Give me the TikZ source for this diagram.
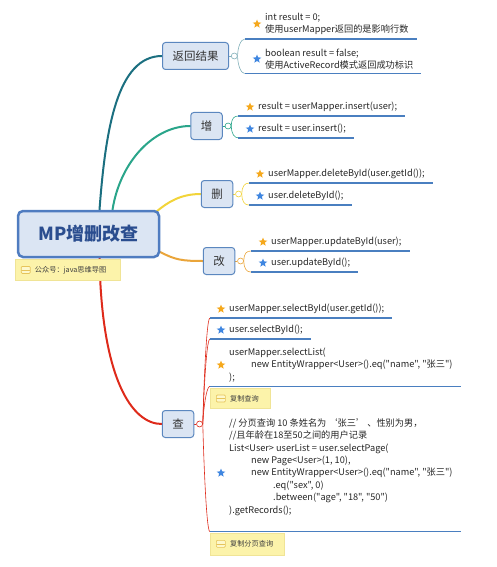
\documentclass[tikz,border=0pt]{standalone}
\usepackage{fontspec}
\setmainfont{Noto Sans CJK SC}[Ligatures=TeXOff]
\usetikzlibrary{shapes.geometric, positioning, calc, backgrounds}
\definecolor{topicfill}{RGB}{219,229,243}
\definecolor{topicline}{RGB}{91,135,191}
\definecolor{rootline}{RGB}{79,124,192}
\definecolor{roottext}{RGB}{42,77,143}
\definecolor{ulcolor}{RGB}{74,127,192}
\definecolor{starorange}{RGB}{245,168,28}
\definecolor{starblue}{RGB}{63,134,224}
\definecolor{notefill}{RGB}{252,243,170}
\definecolor{noteline}{RGB}{240,228,150}
\definecolor{noteicon}{RGB}{230,196,90}
\definecolor{retcolor}{RGB}{27,111,128}
\definecolor{addcolor}{RGB}{42,165,138}
\definecolor{delcolor}{RGB}{242,212,58}
\definecolor{updcolor}{RGB}{234,165,58}
\definecolor{qrycolor}{RGB}{222,42,26}

\begin{document}
\begin{tikzpicture}[x=1pt, y=1pt,
    root/.style={rectangle, rounded corners=5pt, fill=topicfill, draw=rootline, line width=2.5pt,
        minimum width=141pt, minimum height=46pt, font=\fontsize{18}{20}\selectfont\bfseries, text=roottext},
    topic/.style={rectangle, rounded corners=3pt, fill=topicfill, draw=topicline, line width=1pt,
        minimum height=27pt, inner xsep=10pt, font=\fontsize{11.5}{13}\selectfont, text=black!80},
    knob/.style={circle, draw, fill=white, line width=0.6pt, minimum size=6pt, inner sep=0pt},
    leaf/.style={anchor=west, inner xsep=8pt, inner ysep=4pt, align=left,
        font=\fontsize{9.2}{12.4}\selectfont, text=black!85},
    ostar/.style={star, star points=5, star point ratio=2.3, minimum size=9pt, inner sep=0pt, fill=starorange},
    bstar/.style={ostar, fill=starblue},
    uline/.style={draw=ulcolor, line width=1.4pt},
    brk/.style={line width=0.6pt, out=90, in=180, out distance=8pt, in distance=4pt},
    branch/.style={line width=2pt, line cap=round},
    note/.style={anchor=north west, fill=notefill, draw=noteline, minimum height=20pt, inner xsep=4pt,
        align=left, font=\fontsize{7.2}{8}\selectfont, text=black!75},
    noteico/.style={draw=noteicon, fill=notefill!60, line width=0.7pt, rounded corners=1pt,
        minimum width=9pt, minimum height=7pt, inner sep=0pt,
        path picture={\draw[noteicon, line width=0.7pt] (path picture bounding box.west) -- (path picture bounding box.east);}},
]
    \useasboundingbox (0,0) rectangle (496,-567);

    % root and topics
    \node[root] (root) at (88.5,-234) {MP增删改查};
    \node[topic] (ret) at (195.5,-56) {返回结果};
    \node[topic] (add) at (206.5,-126) {增};
    \node[topic] (del) at (217,-194) {删};
    \node[topic] (upd) at (219,-261) {改};
    \node[topic] (qry) at (178,-424) {查};

    \node[knob, draw=retcolor!55, right=2pt of ret] (retk) {};
    \node[knob, draw=addcolor, right=2pt of add] (addk) {};
    \node[knob, draw=delcolor, right=2pt of del] (delk) {};
    \node[knob, draw=updcolor, right=2pt of upd] (updk) {};
    \node[knob, draw=qrycolor, right=2pt of qry] (qryk) {};

    % leaves
    \node[leaf] (a1) at (257,-24) {int result = 0;\\使用userMapper返回的是影响行数};
    \node[leaf] (a2) at (257,-59) {boolean result = false;\\使用ActiveRecord模式返回成功标识};
    \node[leaf] (i1) at (250,-107) {result = userMapper.insert(user);};
    \node[leaf] (i2) at (250,-129) {result = user.insert();};
    \node[leaf] (d1) at (260,-174) {userMapper.deleteById(user.getId());};
    \node[leaf] (d2) at (260,-196) {user.deleteById();};
    \node[leaf] (u1) at (263,-242) {userMapper.updateById(user);};
    \node[leaf] (u2) at (263,-263) {user.updateById();};
    \node[leaf] (s1) at (221,-309) {userMapper.selectById(user.getId());};
    \node[leaf] (s2) at (221,-330) {user.selectById();};
    \node[leaf] (s3) at (221,-365) {userMapper.selectList(\\\hspace*{22pt}new EntityWrapper<User>().eq("name", "张三")\\);};
    \node[leaf] (s4) at (221,-467) {// 分页查询 10 条姓名为 ‘张三’ 、性别为男，\\//且年龄在18至50之间的用户记录\\List<User> userList = user.selectPage(\\\hspace*{22pt}new Page<User>(1, 10),\\\hspace*{22pt}new EntityWrapper<User>().eq("name", "张三")\\\hspace*{44pt}.eq("sex", 0)\\\hspace*{44pt}.between("age", "18", "50")\\).getRecords();};

    \foreach \l in {a1,i1,d1,u1,s1,s3}
        \node[ostar] (st\l) at (\l.west) {};
    \foreach \l in {a2,i2,d2,u2,s2}
        \node[bstar] (st\l) at (\l.west) {};
    \node[bstar] (sts4) at ([yshift=-6pt]s4.west) {};

    % brackets and underlines
    \foreach \k/\l/\d/\c in {retk/a1/90/retcolor!55, retk/a2/-90/retcolor!55, addk/i1/90/addcolor, addk/i2/-90/addcolor,
            delk/d1/90/delcolor, delk/d2/-90/delcolor, updk/u1/90/updcolor, updk/u2/-90/updcolor,
            qryk/s1/90/qrycolor, qryk/s2/90/qrycolor, qryk/s3/90/qrycolor} {
        \coordinate (u\l) at ($(\k.east |- \l.south)+(7,0)$);
        \draw[brk, \c, out=\d] (\k.east) to (u\l);
        \draw[uline] (u\l) -- (\l.south east);
    }
    \coordinate (us4) at ($(qryk.east |- s4.south)+(7,-12)$);
    \draw[brk, qrycolor, out=-90] (qryk.east) to (us4);
    \draw[uline] (us4) -- (us4 -| s4.south east);

    % notes
    \node[note, text width=97pt, minimum height=21pt] (rootnote) at ([xshift=-2pt,yshift=-1pt]root.south west) {\hspace*{16pt}公众号：java思维导图};
    \node[note, text width=52pt] (sn1) at ([yshift=-2pt]us3) {\hspace*{16pt}复制查询};
    \node[note, text width=66pt, minimum height=22pt] (sn2) at ([yshift=-1pt]us4) {\hspace*{16pt}复制分页查询};
    \foreach \n in {rootnote,sn1,sn2}
        \node[noteico] (i\n) at ([xshift=11pt]\n.west) {};

    % main branches
    \begin{scope}[on background layer]
        \draw[branch, retcolor] ([xshift=11pt]root.north) .. controls +(6,80) and +(-45,0) .. (ret.west);
        \draw[branch, addcolor] ([xshift=24pt]root.north) .. controls +(8,50) and +(-35,0) .. (add.west);
        \draw[branch, delcolor] ([xshift=-4pt,yshift=-2pt]root.north east) .. controls +(12,10) and +(-20,0) .. (del.west);
        \draw[branch, updcolor] ([yshift=-18pt]root.east) .. controls +(15,-8) and +(-20,0) .. (upd.west);
        \draw[branch, qrycolor] ([xshift=11pt]root.south) .. controls +(2,-120) and +(-30,0) .. (qry.west);
        \draw[line width=0.6pt, retcolor!55] (ret.east) -- (retk.west);
        \draw[line width=0.6pt, addcolor] (add.east) -- (addk.west);
        \draw[line width=0.6pt, delcolor] (del.east) -- (delk.west);
        \draw[line width=0.6pt, updcolor] (upd.east) -- (updk.west);
        \draw[line width=0.6pt, qrycolor] (qry.east) -- (qryk.west);
    \end{scope}
\end{tikzpicture}
\end{document}
